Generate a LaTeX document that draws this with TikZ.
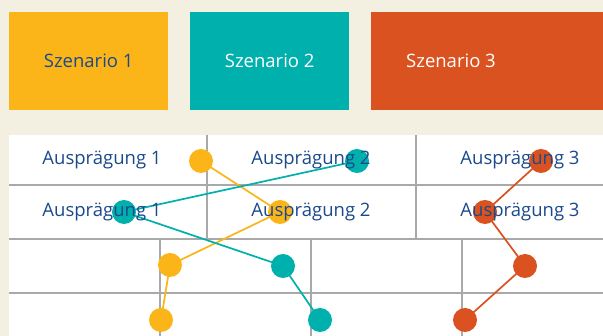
\documentclass[tikz,border=0pt]{standalone}
\usepackage{fontspec}
\setmainfont{Open Sans}
\definecolor{cream}{HTML}{F4F0E1}
\definecolor{gelb}{HTML}{FBB519}
\definecolor{petrol}{HTML}{00B0AD}
\definecolor{rost}{HTML}{DA521F}
\definecolor{tinte}{HTML}{1B4A8C}
\definecolor{raster}{HTML}{A9A9A9}
\begin{document}
\begin{tikzpicture}[x=1pt,y=-1pt,
  card/.style={draw=none,minimum width=159pt,minimum height=98pt,inner sep=0pt,font=\fontsize{18.5}{22}\selectfont},
  label/.style={text=tinte,inner sep=0pt,font=\fontsize{18.5}{22}\selectfont},
  dot/.style={circle,minimum size=24pt,inner sep=0pt,fill=#1},
  link/.style={line width=1.7pt,draw=#1},
  gridline/.style={draw=raster,line width=1.3pt}]
  % canvas
  \fill[cream] (0,0) rectangle (603,336);
  \useasboundingbox (0,0) rectangle (603,336);
  % scenario cards
  \node[card,fill=gelb,text=tinte,anchor=north west] (s1) at (9,12) {Szenario 1};
  \node[card,fill=petrol,text=white,anchor=north west] (s2) at (190,12) {Szenario 2};
  \node[card,fill=rost,anchor=north west,minimum width=240pt] (s3) at (371,12) {};
  \node[card,text=white,minimum width=0pt,minimum height=0pt] (s3t) at (451,61) {Szenario 3};
  % table body
  \fill[white] (9,135) rectangle (603,336);
  \foreach \y in {185,239,293} \draw[gridline] (9,\y) -- (603,\y);
  \foreach \x in {207,416} \draw[gridline] (\x,135) -- (\x,239);
  \foreach \x in {160,311,462} \draw[gridline] (\x,239) -- (\x,336);
  % markers
  \node[dot=gelb] (g1) at (201,161) {};
  \node[dot=gelb] (g2) at (280,212) {};
  \node[dot=gelb] (g3) at (170,265) {};
  \node[dot=gelb] (g4) at (161,320) {};
  \node[dot=petrol] (p1) at (357,161) {};
  \node[dot=petrol] (p2) at (124,212) {};
  \node[dot=petrol] (p3) at (283,266) {};
  \node[dot=petrol] (p4) at (320,320) {};
  \node[dot=rost] (r1) at (541,161) {};
  \node[dot=rost] (r2) at (485,212) {};
  \node[dot=rost] (r3) at (525,266) {};
  \node[dot=rost] (r4) at (465,320) {};
  % scenario paths
  \draw[link=gelb] (g1.center) -- (g2.center) -- (g3.center) -- (g4.center);
  \draw[link=petrol] (p1.center) -- (p2.center) -- (p3.center) -- (p4.center);
  \draw[link=rost] (r1.center) -- (r2.center) -- (r3.center) -- (r4.center);
  % characteristic labels
  \node[label] (a11) at (102,160) {Ausprägung 1};
  \node[label] (a12) at (311,160) {Ausprägung 2};
  \node[label] (a13) at (520,160) {Ausprägung 3};
  \node[label] (a21) at (102,212) {Ausprägung 1};
  \node[label] (a22) at (311,212) {Ausprägung 2};
  \node[label] (a23) at (520,212) {Ausprägung 3};
\end{tikzpicture}
\end{document}
